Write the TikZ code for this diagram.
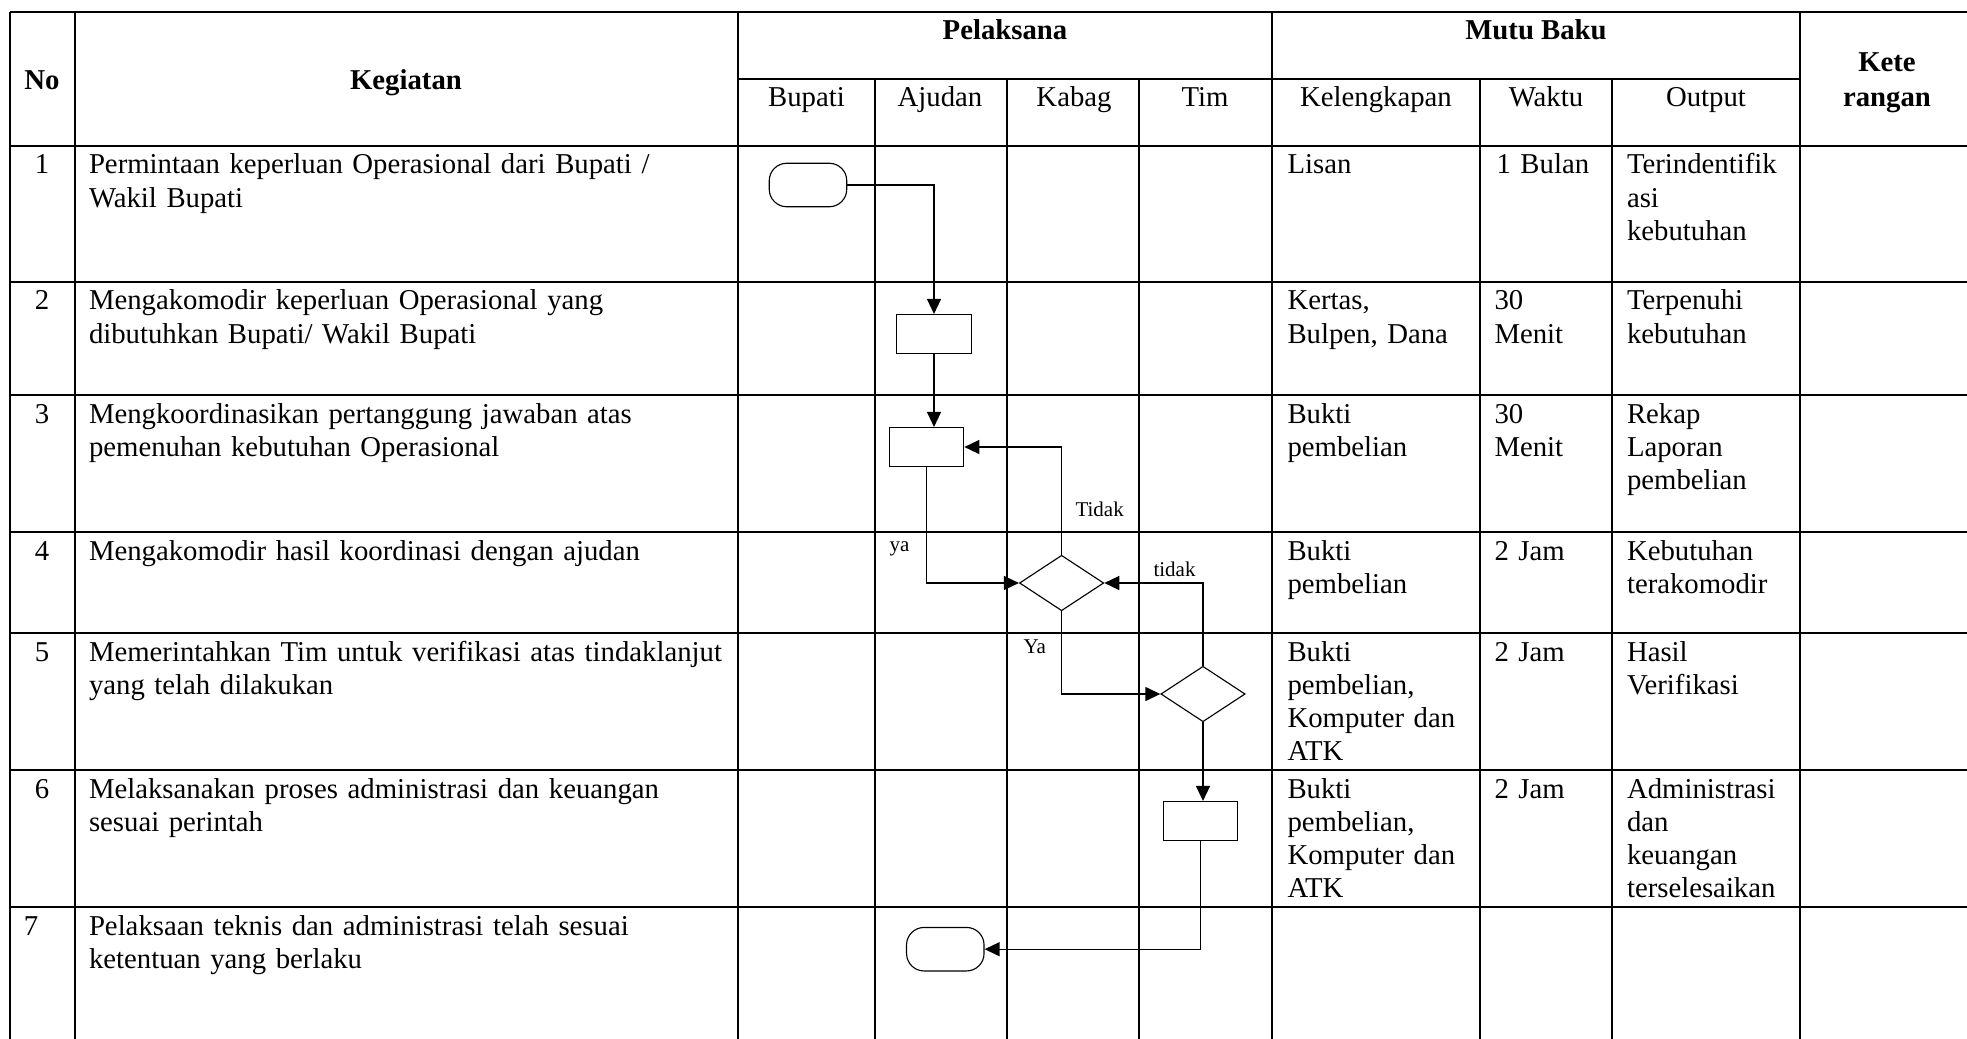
\documentclass[tikz,border=0pt]{standalone}
\usepackage{fontspec}
\setmainfont{Liberation Serif}
\usetikzlibrary{shapes.geometric,arrows.meta,positioning}
\tikzset{>={Triangle[length=6pt,width=5.6pt]}}
\tikzset{
    garis/.style={line width=0.65pt},
    isi/.style={anchor=base west,inner sep=0pt,text width=300pt,align=left,font=\fontsize{11.5}{13.3}\selectfont},
    nomor/.style={anchor=base,inner sep=0pt,font=\fontsize{11.5}{13.3}\selectfont},
    judul/.style={anchor=base,inner sep=0pt,font=\fontsize{11.5}{14}\selectfont\bfseries},
    subjudul/.style={anchor=base,inner sep=0pt,font=\fontsize{11.5}{13.3}\selectfont},
    proses/.style={draw,fill=white,line width=0.45pt,minimum width=29.8pt,minimum height=15.6pt,inner sep=0pt},
    terminal/.style={draw,fill=white,line width=0.45pt,rounded corners=7pt,minimum width=31pt,minimum height=17.4pt,inner sep=0pt},
    keputusan/.style={draw,fill=white,diamond,line width=0.45pt,minimum width=33.7pt,minimum height=22.2pt,inner sep=0pt},
    alur/.style={->,line width=0.55pt},
    ket/.style={anchor=base west,inner sep=0pt,font=\fontsize{8.4}{10}\selectfont}
}
\begin{document}
\begin{tikzpicture}[x=0.4pt,y=-0.4pt]
    \useasboundingbox (0,0) rectangle (1967,1039);

    \draw [garis] (10,12) -- (1967,12);
    \draw [garis] (738,79) -- (1800,79);
    \draw [garis] (10,146) -- (1967,146);
    \draw [garis] (10,282) -- (1967,282);
    \draw [garis] (10,395) -- (1967,395);
    \draw [garis] (10,532) -- (1967,532);
    \draw [garis] (10,633) -- (1967,633);
    \draw [garis] (10,770) -- (1967,770);
    \draw [garis] (10,907) -- (1967,907);

    \draw [garis] (10,12) -- (10,1039);
    \draw [garis] (75,12) -- (75,1039);
    \draw [garis] (738,12) -- (738,1039);
    \draw [garis] (875,79) -- (875,1039);
    \draw [garis] (1007,79) -- (1007,1039);
    \draw [garis] (1139,79) -- (1139,1039);
    \draw [garis] (1272,12) -- (1272,1039);
    \draw [garis] (1480,79) -- (1480,1039);
    \draw [garis] (1612,79) -- (1612,1039);
    \draw [garis] (1800,12) -- (1800,1039);

    \node [judul] (hno) at (42,90) {No};
    \node [judul] (hkeg) at (406,90) {Kegiatan};
    \node [judul] (hpel) at (1005,40) {Pelaksana};
    \node [judul] (hmutu) at (1536,40) {Mutu Baku};
    \node [judul,text width=60pt,align=center] (hket) at (1887,71.7) {Kete\\rangan};
    \node [subjudul] (hbup) at (806.5,106.7) {Bupati};
    \node [subjudul] (hajd) at (940,106.7) {Ajudan};
    \node [subjudul] (hkbg) at (1074,106.7) {Kabag};
    \node [subjudul] (htim) at (1205,106.7) {Tim};
    \node [subjudul] (hkel) at (1376,106.7) {Kelengkapan};
    \node [subjudul] (hwkt) at (1546,106.7) {Waktu};
    \node [subjudul] (hout) at (1706,106.7) {Output};

    \node [nomor] (n1) at (42,174) {1};
    \node [nomor] (n2) at (42,310) {2};
    \node [nomor] (n3) at (42,423) {3};
    \node [nomor] (n4) at (42,560) {4};
    \node [nomor] (n5) at (42,661) {5};
    \node [nomor] (n6) at (42,798) {6};
    \node [nomor] (n7) at (31,935) {7};

    \node [isi] (k1) at (88.5,174) {Permintaan keperluan Operasional dari Bupati /\\Wakil Bupati};
    \node [isi] (k2) at (88.5,310) {Mengakomodir keperluan Operasional yang\\dibutuhkan Bupati/ Wakil Bupati};
    \node [isi] (k3) at (88.5,423) {Mengkoordinasikan pertanggung jawaban atas\\pemenuhan kebutuhan Operasional};
    \node [isi] (k4) at (88.5,560) {Mengakomodir hasil koordinasi dengan ajudan};
    \node [isi] (k5) at (88.5,661) {Memerintahkan Tim untuk verifikasi atas tindaklanjut\\yang telah dilakukan};
    \node [isi] (k6) at (88.5,798) {Melaksanakan proses administrasi dan keuangan\\sesuai perintah};
    \node [isi] (k7) at (88.5,935) {Pelaksaan teknis dan administrasi telah sesuai\\ketentuan yang berlaku};

    \node [isi] (l1) at (1287,174) {Lisan};
    \node [isi] (l2) at (1287,310) {Kertas,\\Bulpen, Dana};
    \node [isi] (l3) at (1287,423) {Bukti\\pembelian};
    \node [isi] (l4) at (1287,560) {Bukti\\pembelian};
    \node [isi] (l5) at (1287,661) {Bukti\\pembelian,\\Komputer dan\\ATK};
    \node [isi] (l6) at (1287,798) {Bukti\\pembelian,\\Komputer dan\\ATK};

    \node [isi] (w1) at (1496,174) {1 Bulan};
    \node [isi] (w2) at (1494,310) {30\\Menit};
    \node [isi] (w3) at (1494,423) {30\\Menit};
    \node [isi] (w4) at (1494,560) {2 Jam};
    \node [isi] (w5) at (1494,661) {2 Jam};
    \node [isi] (w6) at (1494,798) {2 Jam};

    \node [isi] (o1) at (1626.5,174) {Terindentifik\\asi\\kebutuhan};
    \node [isi] (o2) at (1626.5,310) {Terpenuhi\\kebutuhan};
    \node [isi] (o3) at (1626.5,423) {Rekap\\Laporan\\pembelian};
    \node [isi] (o4) at (1626.5,560) {Kebutuhan\\terakomodir};
    \node [isi] (o5) at (1626.5,661) {Hasil\\Verifikasi};
    \node [isi] (o6) at (1626.5,798) {Administrasi\\dan\\keuangan\\terselesaikan};

    \node [terminal] (mulai) at (808,185) {};
    \node [proses] (p2) at (934,334) {};
    \node [proses] (p3) at (926.5,447) {};
    \node [keputusan] (d1) at (1061.6,583) {};
    \node [keputusan] (d2) at (1203,694) {};
    \node [proses] (p6) at (1200.5,821) {};
    \node [terminal] (selesai) at (945.3,949.2) {};

    \draw [alur] (mulai.east) -| (p2.north);
    \draw [alur] (p2.south) -- (p2.south |- p3.north);
    \draw [alur] (p3.south) |- (d1.west);
    \draw [alur] (d1.north) |- (p3.east);
    \draw [alur] (d1.south) |- (d2.west);
    \draw [alur] (d2.north) |- (d1.east);
    \draw [alur] (d2.south) -- (d2.south |- p6.north);
    \draw [alur] (p6.south) |- (selesai.east);

    \node [ket] (ltidak) at (1075,516) {Tidak};
    \node [ket] (lya) at (889,551) {ya};
    \node [ket] (ltidak2) at (1153,576) {tidak};
    \node [ket] (lya2) at (1023,653) {Ya};
\end{tikzpicture}
\end{document}
